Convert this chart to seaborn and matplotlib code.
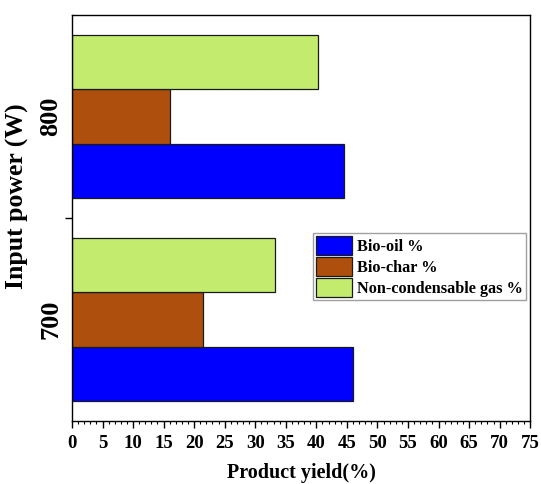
import pandas as pd
import matplotlib.pyplot as plt
import seaborn as sns
from matplotlib.ticker import MultipleLocator

# Data
powers = ['700', '800']
products = ['Bio-oil %', 'Bio-char %', 'Non-condensable gas %']
bio_oil = [46.0, 44.5]
bio_char = [21.5, 16.0]
gas = [33.3, 40.3]
colors = ['#0000FF', '#AE4F0E', '#C3EC6E']

df = pd.DataFrame({
    'power': powers * 3,
    'product': [p for p in products for _ in powers],
    'yield': bio_oil + bio_char + gas,
})

sns.set_style('ticks')
plt.rcParams['font.family'] = ['Liberation Serif', 'DejaVu Serif']
plt.rcParams['font.weight'] = 'bold'
plt.rcParams['text.color'] = 'black'
plt.rcParams['axes.labelcolor'] = 'black'
plt.rcParams['xtick.color'] = 'black'
plt.rcParams['ytick.color'] = 'black'

fig = plt.figure(figsize=(5.41, 4.84), dpi=100)
ax = fig.add_axes([0.133, 0.130, 0.847, 0.839])

sns.barplot(data=df, x='yield', y='power', hue='product', order=powers,
            hue_order=products, palette=colors, orient='h', width=0.8,
            edgecolor='#1a1a1a', linewidth=0.9, saturation=1, ax=ax)

# put 700 at the bottom and Bio-oil lowest in each group
ax.invert_yaxis()
ax.set_ylim(-0.5, 1.5)
ax.set_xlim(0, 75)

ax.xaxis.set_major_locator(MultipleLocator(5))
ax.xaxis.set_minor_locator(MultipleLocator(1))
ax.tick_params(axis='x', which='major', length=5, width=1, direction='out',
               labelsize=13.5, pad=5)
ax.tick_params(axis='x', which='minor', length=2.5, width=0.8, direction='out')
for lbl in ax.get_xticklabels():
    lbl.set_fontweight('bold')

ax.set_yticks([0, 1])
ax.set_yticklabels(powers, rotation=90, va='center', fontsize=19, fontweight='bold')
ax.set_yticks([0.5], minor=True)
ax.tick_params(axis='y', which='major', length=0, pad=7)
ax.tick_params(axis='y', which='minor', length=5, width=1, direction='out')

for side in ['top', 'right', 'left', 'bottom']:
    ax.spines[side].set_visible(True)
    ax.spines[side].set_color('black')
    ax.spines[side].set_linewidth(1)

ax.set_xlabel('Product yield(%)', fontsize=14.5, fontweight='bold', labelpad=8)
ax.set_ylabel('Input power (W)', fontsize=18.5, fontweight='bold')
ax.yaxis.set_label_coords(-0.094, 0.555)

leg = ax.legend(loc='upper left', bbox_to_anchor=(0.526, 0.463), fontsize=11.7,
                frameon=True, fancybox=False, shadow=False, borderpad=0.2,
                handlelength=2.2, handleheight=1.35, handletextpad=0.3,
                labelspacing=0.15, borderaxespad=0)
leg.get_frame().set_edgecolor('#888888')
leg.get_frame().set_linewidth(1)
for t in leg.get_texts():
    t.set_fontweight('bold')

fig.savefig('out.png', dpi=100)
